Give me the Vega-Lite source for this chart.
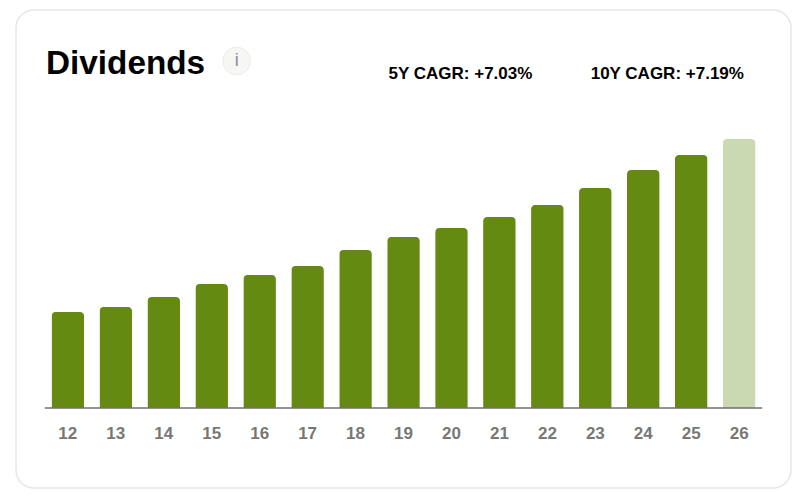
{
  "$schema": "https://vega.github.io/schema/vega-lite/v6.json",
  "width": 775,
  "height": 478,
  "autosize": "none",
  "padding": {"left": 16, "top": 10, "right": 9, "bottom": 13},
  "background": "white",
  "config": {
    "font": "Liberation Sans",
    "view": {"fill": "white", "stroke": "#e6e6e4", "strokeWidth": 1.5, "cornerRadius": 18}
  },
  "title": {
    "text": "Dividends",
    "anchor": "start",
    "frame": "group",
    "orient": "top",
    "offset": 0,
    "dx": 30,
    "dy": 97,
    "baseline": "alphabetic",
    "font": "Liberation Sans",
    "fontSize": 33.3,
    "fontWeight": "bold",
    "color": "#000000"
  },
  "data": {
    "values": [
      {"year": "12", "dividend": 0.96, "status": "actual"},
      {"year": "13", "dividend": 1.01, "status": "actual"},
      {"year": "14", "dividend": 1.11, "status": "actual"},
      {"year": "15", "dividend": 1.24, "status": "actual"},
      {"year": "16", "dividend": 1.33, "status": "actual"},
      {"year": "17", "dividend": 1.42, "status": "actual"},
      {"year": "18", "dividend": 1.58, "status": "actual"},
      {"year": "19", "dividend": 1.71, "status": "actual"},
      {"year": "20", "dividend": 1.80, "status": "actual"},
      {"year": "21", "dividend": 1.91, "status": "actual"},
      {"year": "22", "dividend": 2.03, "status": "actual"},
      {"year": "23", "dividend": 2.20, "status": "actual"},
      {"year": "24", "dividend": 2.38, "status": "actual"},
      {"year": "25", "dividend": 2.53, "status": "actual"},
      {"year": "26", "dividend": 2.69, "status": "estimate"}
    ]
  },
  "layer": [
    {
      "mark": {"type": "bar", "cornerRadiusTopLeft": 4, "cornerRadiusTopRight": 4},
      "encoding": {
        "x": {
          "field": "year",
          "type": "ordinal",
          "scale": {"paddingInner": 0.32, "paddingOuter": 0.74},
          "axis": {
            "title": null,
            "offset": -80,
            "domain": false,
            "ticks": false,
            "labelAngle": 0,
            "labelPadding": 17,
            "labelFontSize": 17,
            "labelFontWeight": "bold",
            "labelColor": "#777777",
            "grid": false
          }
        },
        "y": {
          "field": "dividend",
          "type": "quantitative",
          "scale": {"domain": [-0.8, 3.98], "nice": false, "zero": false},
          "axis": null
        },
        "color": {
          "field": "status",
          "type": "nominal",
          "scale": {"domain": ["actual", "estimate"], "range": ["#658a12", "#cbd9b2"]},
          "legend": null
        }
      }
    },
    {
      "data": {"values": [{"start": "12", "end": "26", "base": 0}]},
      "mark": {"type": "rule", "color": "#6f6f73", "strokeWidth": 1.5, "xOffset": -23, "x2Offset": 23},
      "encoding": {
        "x": {"field": "start", "type": "ordinal"},
        "x2": {"field": "end"},
        "y": {"field": "base", "type": "quantitative"}
      }
    },
    {
      "data": {"values": [{"year": "15", "level": 3.47}]},
      "mark": {"type": "point", "filled": true, "shape": "circle", "size": 770, "color": "#f3f3f1", "stroke": "#e4e4e2", "strokeWidth": 1, "xOffset": 25},
      "encoding": {
        "x": {"field": "year", "type": "ordinal"},
        "y": {"field": "level", "type": "quantitative"}
      }
    },
    {
      "data": {"values": [{"year": "15", "level": 3.47, "label": "i"}]},
      "mark": {"type": "text", "fontSize": 18, "color": "#8a8a8a", "baseline": "middle", "align": "center", "xOffset": 25},
      "encoding": {
        "x": {"field": "year", "type": "ordinal"},
        "y": {"field": "level", "type": "quantitative"},
        "text": {"field": "label"}
      }
    },
    {
      "data": {"values": [{"year": "20", "level": 3.34, "label": "5Y CAGR: +7.03%"}]},
      "mark": {"type": "text", "fontSize": 17, "fontWeight": "bold", "color": "#000000", "baseline": "middle", "align": "center", "xOffset": 9},
      "encoding": {
        "x": {"field": "year", "type": "ordinal"},
        "y": {"field": "level", "type": "quantitative"},
        "text": {"field": "label"}
      }
    },
    {
      "data": {"values": [{"year": "24", "level": 3.34, "label": "10Y CAGR: +7.19%"}]},
      "mark": {"type": "text", "fontSize": 17, "fontWeight": "bold", "color": "#000000", "baseline": "middle", "align": "center", "xOffset": 24},
      "encoding": {
        "x": {"field": "year", "type": "ordinal"},
        "y": {"field": "level", "type": "quantitative"},
        "text": {"field": "label"}
      }
    }
  ]
}
